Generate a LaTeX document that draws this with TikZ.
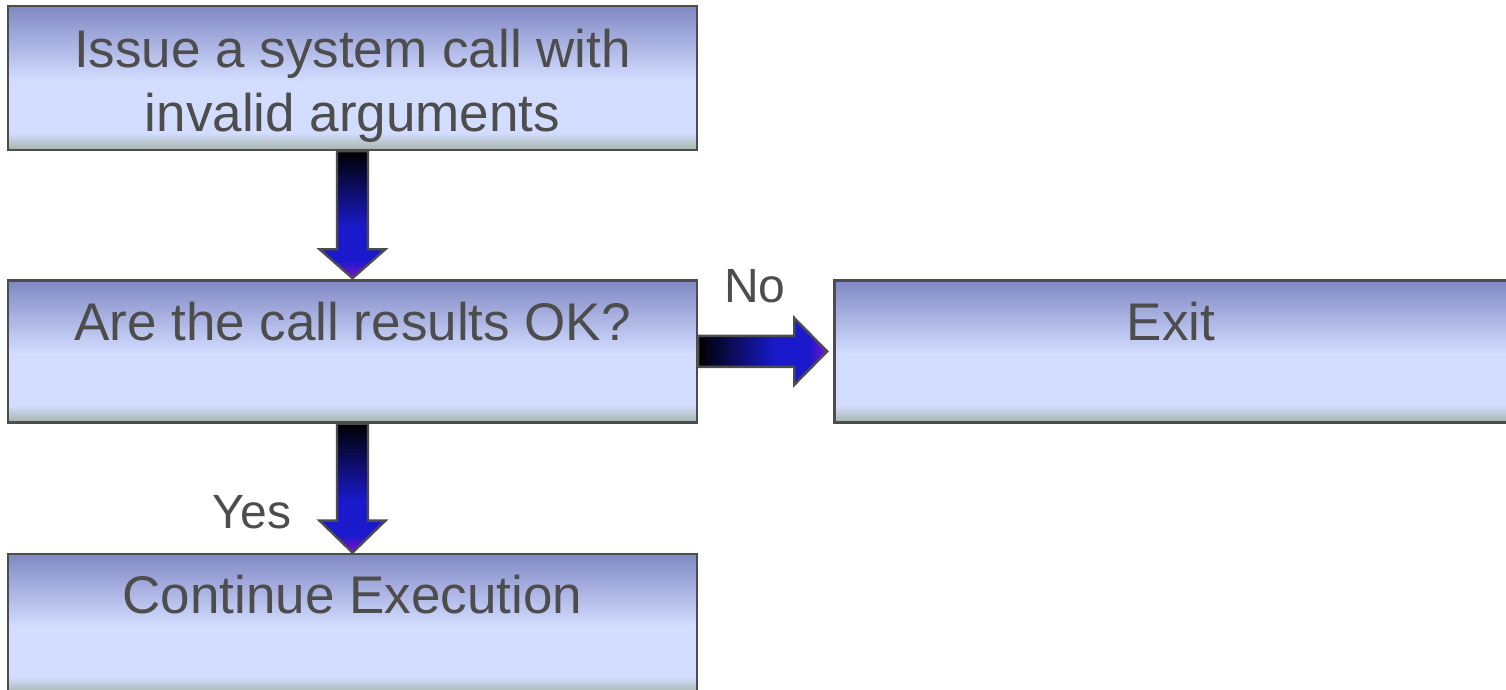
\documentclass[tikz,border=0pt]{standalone}
\usepackage{fontspec}
\setmainfont{Liberation Sans}
\usepackage{xcolor}
\usetikzlibrary{positioning,calc}

\definecolor{boxtop}{HTML}{8088C4}
\definecolor{boxmid}{HTML}{D3DDFF}
\definecolor{boxlow}{HTML}{A5B4A8}
\definecolor{arrowblue}{HTML}{1A1ACC}
\definecolor{arrowpurple}{HTML}{8010D0}
\definecolor{inkgray}{HTML}{4D4D4D}

\pgfdeclareverticalshading{boxshade}{100bp}{color(0bp)=(boxlow); color(25bp)=(boxlow);
  color(31bp)=(boxmid); color(49bp)=(boxmid); color(75bp)=(boxtop); color(100bp)=(boxtop)}
\pgfdeclarehorizontalshading{arrowshade}{100bp}{color(0bp)=(black); color(25bp)=(black);
  color(40bp)=(arrowblue!50!black); color(55bp)=(arrowblue); color(68bp)=(arrowblue);
  color(75bp)=(arrowpurple); color(100bp)=(arrowpurple)}

\tikzset{
  flowbox/.style={draw=inkgray,line width=1.2pt,shading=boxshade,inner sep=0pt,
    minimum width=344.5pt,text=inkgray,font=\fontsize{26.5}{32}\selectfont,align=center},
  blockarrow/.style={draw=inkgray,line width=1.2pt,shading=arrowshade,line join=miter},
  arrowlabel/.style={text=inkgray,font=\fontsize{24}{28}\selectfont,inner sep=0pt}
}

\begin{document}
\begin{tikzpicture}[x=1pt,y=1pt,node distance=64pt]
  \useasboundingbox (0,0) rectangle (753,-345);
  \node[flowbox,text height=63pt,text depth=9pt] (issue) at (176.25,-39) {Issue a system call with\\invalid arguments};
  \node[flowbox,below=of issue,text height=30pt,text depth=41pt] (call) {Are the call results OK?};
  \node[flowbox,right=67.5pt of call,minimum width=336.5pt,text height=30pt,text depth=41pt] (exit) {Exit};
  \node[flowbox,below=64.5pt of call,text height=30pt,text depth=40pt] (cont) {Continue Execution};
  % block arrows between the boxes
  \path[blockarrow,shading angle=-90] let \p1=(issue.south), \p2=(call.north) in
    (\x1-7.75pt,\y1) -- (\x1-7.75pt,\y2+15pt) -- (\x1-16.5pt,\y2+15pt) -- (\x1,\y2+0.5pt)
    -- (\x1+16.5pt,\y2+15pt) -- (\x1+7.75pt,\y2+15pt) -- (\x1+7.75pt,\y1) -- cycle;
  \path[blockarrow,shading angle=-90] let \p1=(call.south), \p2=(cont.north) in
    (\x1-7.75pt,\y1) -- (\x1-7.75pt,\y2+16pt) -- (\x1-16.5pt,\y2+16pt) -- (\x1,\y2)
    -- (\x1+16.5pt,\y2+16pt) -- (\x1+7.75pt,\y2+16pt) -- (\x1+7.75pt,\y1) -- cycle;
  \path[blockarrow] let \p1=(call.east), \p2=(exit.west) in
    (\x1,\y1+7.75pt) -- (\x2-19.5pt,\y1+7.75pt) -- (\x2-19.5pt,\y1+16.75pt) -- (\x2-3pt,\y1)
    -- (\x2-19.5pt,\y1-16.75pt) -- (\x2-19.5pt,\y1-7.75pt) -- (\x1,\y1-7.75pt) -- cycle;
  \node[arrowlabel,anchor=base] (nolabel) at (377.5,-151) {No};
  \node[arrowlabel,anchor=base] (yeslabel) at (126,-264) {Yes};
\end{tikzpicture}
\end{document}
